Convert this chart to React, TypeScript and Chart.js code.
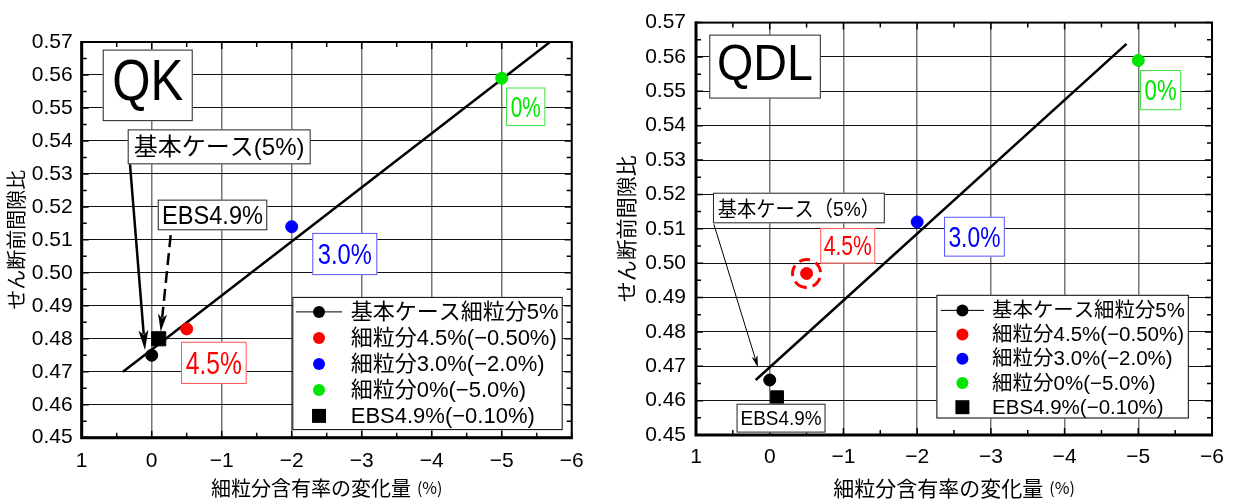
import React, { useEffect, useRef } from "react";
import { Chart, registerables } from "chart.js";

Chart.register(...registerables);

// ---------- data ----------
const SERIES_LABELS = [
  "基本ケース細粒分5%",
  "細粒分4.5%(−0.50%)",
  "細粒分3.0%(−2.0%)",
  "細粒分0%(−5.0%)",
  "EBS4.9%(−0.10%)",
];
const SERIES_COLORS = ["#000000", "#ff0000", "#0000ff", "#00e600", "#000000"];
const SERIES_SHAPES = ["circle", "circle", "circle", "circle", "rect"];
const FINES_CHANGE = [0, -0.5, -2.0, -5.0, -0.1];
const QK_VOID_RATIO = [0.475, 0.483, 0.514, 0.559, 0.48];
const QDL_VOID_RATIO = [0.466, 0.497, 0.512, 0.559, 0.461];
const QK_TREND_X = [0.41, -5.69];
const QK_TREND_Y = [0.47, 0.57];
const QDL_TREND_X = [0.19, -4.84];
const QDL_TREND_Y = [0.466, 0.5638];
const X_MIN = -6;
const X_MAX = 1;
const Y_MIN = 0.45;
const Y_MAX = 0.57;
const Y_STEP = 0.01;
const X_TITLE_MAIN = "細粒分含有率の変化量";
const X_TITLE_UNIT = "(%)";
const Y_TITLE = "せん断前間隙比";

// ---------- layout / styling ----------
const LATIN = '"Liberation Sans", "Noto Sans CJK JP", sans-serif';
const CJK = '"Noto Sans CJK JP", "Liberation Sans", sans-serif';

type Box = {
  x1: number; y1: number; x2: number; y2: number;
  text: string; color: string; border: string; size: number; tw: number; family?: string;
};
type Arrow = {
  x1: number; y1: number; x2: number; y2: number;
  lw: number; dash?: number[]; headL: number; headW: number;
};
type Panel = {
  name: string;
  left: number; width: number;
  area: { l: number; r: number; t: number; b: number };
  values: number[];
  trendX: number[]; trendY: number[];
  circleR: number; squareR: number;
  boxes: Box[]; arrows: Arrow[];
  legend: { x1: number; y1: number; x2: number; y2: number; row0: number; dy: number; mx: number; tx: number; font: number; lineHalf: number };
  highlight?: { index: number; r: number };
  yTitleX: number; xTitleY: number; titleFont: number;
  yPad: number; xPad: number;
};

const PANELS: Panel[] = [
  {
    name: "QK",
    left: 0, width: 605,
    area: { l: 81.7, r: 571.7, t: 42, b: 437.7 },
    values: QK_VOID_RATIO,
    trendX: QK_TREND_X, trendY: QK_TREND_Y,
    circleR: 6, squareR: 10,
    boxes: [
      { x1: 0.7, x2: -0.586, y1: 0.5677, y2: 0.546, text: "QK", color: "#000", border: "#222", size: 58, tw: 71 },
      { x1: 0.343, x2: -2.271, y1: 0.5435, y2: 0.5329, text: "基本ケース(5%)", color: "#000", border: "#222", size: 24, tw: 173 },
      { x1: -0.086, x2: -1.651, y1: 0.5222, y2: 0.5129, text: "EBS4.9%", color: "#000", border: "#222", size: 25, tw: 101 },
      { x1: -2.294, x2: -3.223, y1: 0.5121, y2: 0.4993, text: "3.0%", color: "#0000ff", border: "#5555ff", size: 29, tw: 54 },
      { x1: -0.419, x2: -1.357, y1: 0.4791, y2: 0.4663, text: "4.5%", color: "#ff0000", border: "#ff5555", size: 31, tw: 56 },
      { x1: -5.061, x2: -5.623, y1: 0.5562, y2: 0.5445, text: "0%", color: "#00e600", border: "#44e044", size: 29, tw: 30 },
    ],
    arrows: [
      { x1: 0.31, y1: 0.5329, x2: 0.096, y2: 0.4766, lw: 2.5, headL: 20, headW: 10 },
      { x1: -0.271, y1: 0.5114, x2: -0.129, y2: 0.4821, lw: 2.5, dash: [12, 6], headL: 18, headW: 9 },
    ],
    legend: { x1: -2.009, x2: -5.871, y1: 0.4927, y2: 0.4523, row0: 15, dy: 26, mx: 26.7, tx: 58.4, font: 22, lineHalf: 23 },
    yTitleX: 16, xTitleY: 488, titleFont: 20,
    yPad: 9, xPad: 11,
  },
  {
    name: "QDL",
    left: 610, width: 624,
    area: { l: 86, r: 604, t: 16, b: 435 },
    values: QDL_VOID_RATIO,
    trendX: QDL_TREND_X, trendY: QDL_TREND_Y,
    circleR: 6, squareR: 9,
    boxes: [
      { x1: 0.82, x2: -0.693, y1: 0.5665, y2: 0.5479, text: "QDL", color: "#000", border: "#222", size: 50, tw: 96 },
      { x1: 0.77, x2: -1.561, y1: 0.5205, y2: 0.5116, text: "基本ケース（5%）", color: "#000", border: "#222", size: 21, tw: 162 },
      { x1: -0.685, x2: -1.432, y1: 0.5102, y2: 0.4999, text: "4.5%", color: "#ff0000", border: "#ff5555", size: 27, tw: 48 },
      { x1: -2.365, x2: -3.189, y1: 0.5135, y2: 0.5019, text: "3.0%", color: "#0000ff", border: "#5555ff", size: 29, tw: 52 },
      { x1: -5.023, x2: -5.581, y1: 0.5562, y2: 0.5445, text: "0%", color: "#00e600", border: "#44e044", size: 29, tw: 32 },
      { x1: 0.45, x2: -0.757, y1: 0.4591, y2: 0.4507, text: "EBS4.9%", color: "#000", border: "#222", size: 21, tw: 81 },
    ],
    arrows: [
      { x1: 0.757, y1: 0.5113, x2: 0.158, y2: 0.4696, lw: 1, headL: 12, headW: 6 },
    ],
    legend: { x1: -2.261, x2: -5.685, y1: 0.4908, y2: 0.4548, row0: 15.6, dy: 24.2, mx: 26, tx: 55.7, font: 20.5, lineHalf: 21.7 },
    highlight: { index: 1, r: 14 },
    yTitleX: 16, xTitleY: 488, titleFont: 21,
    yPad: 10, xPad: 10,
  },
];

function fmtX(v: number) {
  if (Math.abs(v) < 1e-9) return "0";
  return v < 0 ? "−" + Math.abs(v) : String(v);
}

function makeExtras(p: Panel) {
  return {
    id: "extras_" + p.name,
    afterDraw(chart: any) {
      const ctx: CanvasRenderingContext2D = chart.ctx;
      const xs = chart.scales.x;
      const ys = chart.scales.y;
      const X = (v: number) => xs.getPixelForValue(v);
      const Y = (v: number) => ys.getPixelForValue(v);
      const { left, right, top, bottom } = chart.chartArea;
      ctx.save();

      // minor ticks (inward)
      ctx.strokeStyle = "#000";
      ctx.lineWidth = 1.5;
      for (let i = 0; i <= (X_MAX - X_MIN) * 2; i++) {
        const v = X_MIN + i * 0.5;
        const px = X(v);
        const len = i % 2 === 0 ? 7 : 5;
        ctx.beginPath();
        ctx.moveTo(px, bottom); ctx.lineTo(px, bottom - len);
        ctx.moveTo(px, top); ctx.lineTo(px, top + len);
        ctx.stroke();
      }
      const nY = Math.round((Y_MAX - Y_MIN) / (Y_STEP / 2));
      for (let i = 0; i <= nY; i++) {
        const v = Y_MIN + i * (Y_STEP / 2);
        const py = Y(v);
        const len = i % 2 === 0 ? 7 : 5;
        ctx.beginPath();
        ctx.moveTo(left, py); ctx.lineTo(left + len, py);
        ctx.moveTo(right, py); ctx.lineTo(right - len, py);
        ctx.stroke();
      }
      // frame
      ctx.lineWidth = 2;
      ctx.strokeRect(left, top, right - left, bottom - top);
      ctx.lineWidth = 3;
      ctx.beginPath();
      ctx.moveTo(left, top - 1); ctx.lineTo(left, bottom); ctx.lineTo(right + 1, bottom);
      ctx.stroke();

      // highlight dashed circle
      if (p.highlight) {
        const hx = X(FINES_CHANGE[p.highlight.index]);
        const hy = Y(p.values[p.highlight.index]);
        ctx.save();
        ctx.strokeStyle = SERIES_COLORS[p.highlight.index];
        ctx.lineWidth = 3;
        ctx.setLineDash([11, 6]);
        ctx.beginPath();
        ctx.arc(hx, hy, p.highlight.r, Math.PI * 0.55, Math.PI * 2.55);
        ctx.stroke();
        ctx.restore();
      }

      // text boxes
      for (const b of p.boxes) {
        const bx1 = X(b.x1), bx2 = X(b.x2), by1 = Y(b.y1), by2 = Y(b.y2);
        ctx.fillStyle = "#fff";
        ctx.fillRect(bx1, by1, bx2 - bx1, by2 - by1);
        ctx.strokeStyle = b.border;
        ctx.lineWidth = 1;
        ctx.strokeRect(bx1 + 0.5, by1 + 0.5, bx2 - bx1 - 1, by2 - by1 - 1);
        ctx.font = `${b.size}px ${b.family || LATIN}`;
        ctx.fillStyle = b.color;
        ctx.textAlign = "center";
        ctx.textBaseline = "alphabetic";
        const m = ctx.measureText(b.text);
        const w = Math.min(m.width, b.tw);
        const asc = m.actualBoundingBoxAscent, desc = m.actualBoundingBoxDescent;
        const cy = (by1 + by2) / 2 + (asc - desc) / 2;
        ctx.fillText(b.text, (bx1 + bx2) / 2, cy, w);
      }

      // arrows
      for (const a of p.arrows) {
        const ax1 = X(a.x1), ay1 = Y(a.y1), ax2 = X(a.x2), ay2 = Y(a.y2);
        const ang = Math.atan2(ay2 - ay1, ax2 - ax1);
        const ex = ax2 - Math.cos(ang) * a.headL * 0.8;
        const ey = ay2 - Math.sin(ang) * a.headL * 0.8;
        ctx.save();
        ctx.strokeStyle = "#000";
        ctx.lineWidth = a.lw;
        if (a.dash) ctx.setLineDash(a.dash);
        ctx.beginPath();
        ctx.moveTo(ax1, ay1); ctx.lineTo(ex, ey);
        ctx.stroke();
        ctx.restore();
        ctx.fillStyle = "#000";
        const bx = ax2 - Math.cos(ang) * a.headL;
        const by = ay2 - Math.sin(ang) * a.headL;
        const nx = -Math.sin(ang) * a.headW / 2, ny = Math.cos(ang) * a.headW / 2;
        ctx.beginPath();
        ctx.moveTo(ax2, ay2);
        ctx.lineTo(bx + nx, by + ny);
        ctx.lineTo(ax2 - Math.cos(ang) * a.headL * 0.75, ay2 - Math.sin(ang) * a.headL * 0.75);
        ctx.lineTo(bx - nx, by - ny);
        ctx.closePath();
        ctx.fill();
      }

      // legend
      const L = p.legend;
      const lx1 = X(L.x1), lx2 = X(L.x2), ly1 = Y(L.y1), ly2 = Y(L.y2);
      ctx.fillStyle = "#fff";
      ctx.fillRect(lx1, ly1, lx2 - lx1, ly2 - ly1);
      ctx.strokeStyle = "#000";
      ctx.lineWidth = 1;
      ctx.strokeRect(lx1 + 0.5, ly1 + 0.5, lx2 - lx1 - 1, ly2 - ly1 - 1);
      ctx.font = `${L.font}px ${LATIN}`;
      ctx.textAlign = "left";
      ctx.textBaseline = "middle";
      SERIES_LABELS.forEach((lab, i) => {
        const ry = ly1 + L.row0 + i * L.dy;
        const mx = lx1 + L.mx;
        ctx.fillStyle = SERIES_COLORS[i];
        if (i === 0) {
          ctx.strokeStyle = "#000";
          ctx.lineWidth = 1;
          ctx.beginPath();
          ctx.moveTo(mx - L.lineHalf, ry); ctx.lineTo(mx + L.lineHalf, ry);
          ctx.stroke();
        }
        if (SERIES_SHAPES[i] === "rect") {
          ctx.fillRect(mx - 7, ry - 7, 14, 14);
        } else {
          ctx.beginPath();
          ctx.arc(mx, ry, 6, 0, Math.PI * 2);
          ctx.fill();
        }
        ctx.fillStyle = "#000";
        const maxW = lx2 - (lx1 + L.tx) - 4;
        ctx.fillText(lab, lx1 + L.tx, ry + 1, maxW);
      });

      // axis titles
      ctx.fillStyle = "#000";
      ctx.textBaseline = "middle";
      ctx.textAlign = "left";
      ctx.font = `${p.titleFont}px ${CJK}`;
      const wMain = ctx.measureText(X_TITLE_MAIN).width;
      const unitFont = `${Math.round(p.titleFont * 0.78)}px ${CJK}`;
      ctx.font = unitFont;
      const wUnit = ctx.measureText(X_TITLE_UNIT).width;
      const gap = 6;
      const startX = (left + right) / 2 - (wMain + gap + wUnit) / 2;
      ctx.font = `${p.titleFont}px ${CJK}`;
      ctx.fillText(X_TITLE_MAIN, startX, p.xTitleY);
      ctx.font = unitFont;
      ctx.fillText(X_TITLE_UNIT, startX + wMain + gap, p.xTitleY);

      ctx.textAlign = "center";
      ctx.font = `${p.titleFont}px ${CJK}`;
      ctx.save();
      ctx.translate(p.yTitleX, (top + bottom) / 2);
      ctx.rotate(-Math.PI / 2);
      ctx.fillText(Y_TITLE, 0, 0);
      ctx.restore();

      ctx.restore();
    },
  };
}

function PanelChart({ p }: { p: Panel }) {
  const ref = useRef<HTMLCanvasElement | null>(null);
  useEffect(() => {
    if (!ref.current) return;
    const datasets: any[] = SERIES_LABELS.map((lab, i) => ({
      label: lab,
      data: [{ x: FINES_CHANGE[i], y: p.values[i] }],
      showLine: false,
      pointStyle: SERIES_SHAPES[i],
      pointRadius: SERIES_SHAPES[i] === "rect" ? p.squareR : p.circleR,
      pointBackgroundColor: SERIES_COLORS[i],
      pointBorderColor: SERIES_COLORS[i],
      pointBorderWidth: 1,
      order: 0,
    }));
    datasets.push({
      label: "trend",
      data: p.trendX.map((x, i) => ({ x, y: p.trendY[i] })),
      showLine: true,
      borderColor: "#000",
      borderWidth: 2.5,
      pointRadius: 0,
      fill: false,
      order: 1,
    });
    const chart = new Chart(ref.current, {
      type: "scatter",
      data: { datasets },
      options: {
        animation: false,
        responsive: false,
        devicePixelRatio: 1,
        layout: {
          padding: { left: 0, top: p.area.t, right: p.width - p.area.r, bottom: 0 },
        },
        plugins: { legend: { display: false }, tooltip: { enabled: false } },
        scales: {
          x: {
            type: "linear",
            min: X_MIN,
            max: X_MAX,
            reverse: true,
            afterFit: (s: any) => { s.height = 504 - p.area.b; },
            grid: { color: "#777", lineWidth: 1.5, drawTicks: false },
            border: { display: false },
            ticks: {
              stepSize: 1,
              autoSkip: false,
              maxRotation: 0,
              padding: p.xPad,
              color: "#000",
              font: { size: 21, family: LATIN },
              callback: (v: any) => fmtX(Number(v)),
            },
          },
          y: {
            type: "linear",
            min: Y_MIN,
            max: Y_MAX,
            afterFit: (s: any) => { s.width = p.area.l; },
            grid: { color: "#111", lineWidth: 1, drawTicks: false },
            border: { display: false },
            ticks: {
              stepSize: Y_STEP,
              autoSkip: false,
              padding: p.yPad,
              color: "#000",
              font: { size: 21, family: LATIN },
              callback: (v: any) => Number(v).toFixed(2),
            },
          },
        },
      },
      plugins: [makeExtras(p)],
    } as any);
    return () => chart.destroy();
  }, [p]);
  return (
    <canvas
      ref={ref}
      width={p.width}
      height={504}
      style={{ position: "absolute", left: p.left, top: 0, width: p.width, height: 504 }}
    />
  );
}

export default function App() {
  return (
    <div style={{ position: "absolute", left: 0, top: 0, width: 1234, height: 504, background: "#fff", overflow: "hidden" }}>
      {PANELS.map((p) => (
        <PanelChart key={p.name} p={p} />
      ))}
    </div>
  );
}
